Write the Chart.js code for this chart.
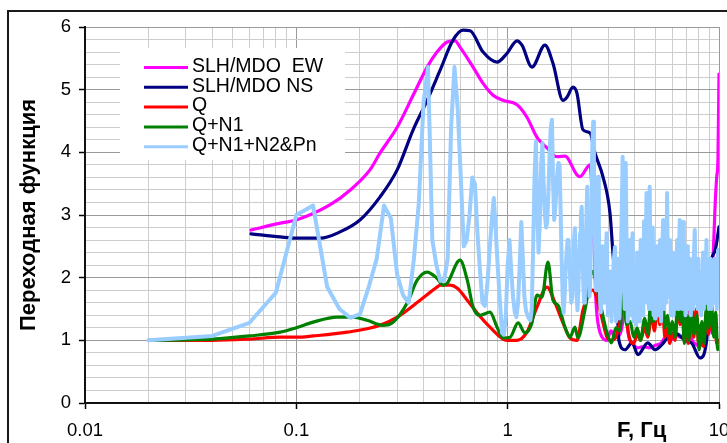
<!DOCTYPE html>
<html>
<head>
<meta charset="utf-8">
<script src="https://cdn.jsdelivr.net/npm/chart.js@4/dist/chart.umd.min.js"></script>
<style>
html,body{margin:0;padding:0;background:#fff;}
canvas{display:block;}
</style>
</head>
<body>
<canvas id="c" width="727" height="443"></canvas>
<script>
// ---------- data ----------
const seriesNames = ['SLH/MDO  EW', 'SLH/MDO NS', 'Q', 'Q+N1', 'Q+N1+N2&Pn'];
const seriesColors = ['#ff00ff', '#000080', '#ff0000', '#008000', '#99ccff'];

const xTickValues = [0.01, 0.1, 1, 10];
const xTickLabels = ['0.01', '0.1', '1', '10'];
const xGridValues = [0.01,0.02,0.03,0.04,0.05,0.06,0.07,0.08,0.09,
                     0.1,0.2,0.3,0.4,0.5,0.6,0.7,0.8,0.9,
                     1,2,3,4,5,6,7,8,9,10];
const yTitle = 'Переходная функция';
const xTitle = 'F, Гц';

// SLH/MDO EW
const ewF = [0.061,0.084,0.1,0.144,0.18,0.223,0.249,0.3,0.357,0.416,
             0.463,0.517,0.564,0.595,0.686,0.765,0.853,0.951,1.107,1.234,
             1.376,1.535,1.711,1.867,2.128,2.198,2.452,2.56,2.62,2.70,
             2.80,2.95,3.08,3.22,3.40,3.55,3.63,3.72,3.90,4.10,
             4.40,4.70,5.00,5.30,5.60,5.90,6.20,6.55,6.90,7.15,
             7.35,7.70,8.10,8.40,8.80,8.95,9.17,9.40,9.57,9.75,
             9.89,10];
const ewV = [2.76,2.87,2.92,3.16,3.40,3.72,3.99,4.40,4.91,5.36,
             5.60,5.76,5.78,5.68,5.36,5.10,4.91,4.83,4.76,4.56,
             4.24,4.07,3.93,3.94,3.64,3.61,3.80,2.60,1.60,1.20,
             1.05,1.00,1.15,1.05,1.10,1.48,2.00,1.10,0.95,0.88,
             0.90,0.88,0.92,0.95,1.05,1.00,1.10,1.05,1.20,2.28,
             1.10,0.95,0.90,1.00,1.20,1.10,1.80,2.40,3.10,3.60,
             3.90,5.25];

// SLH/MDO NS
const nsF = [0.061,0.084,0.1,0.13,0.161,0.2,0.249,0.3,0.357,0.416,
             0.479,0.551,0.615,0.664,0.765,0.891,0.993,1.107,1.169,1.303,
             1.501,1.638,1.827,1.908,2.037,2.128,2.271,2.452,2.589,2.825,
             3.049,3.149,3.29,3.36,3.59,3.875,4.137,4.6,4.977,5.37,
             5.73,6.19,6.90,7.45,8.13,8.74,9.17,9.6,10];
const nsV = [2.70,2.65,2.63,2.63,2.73,2.92,3.29,3.72,4.36,4.83,
             5.31,5.79,5.95,5.94,5.60,5.44,5.58,5.78,5.71,5.36,
             5.71,5.42,4.83,4.88,5.04,4.94,4.36,4.31,3.99,3.61,
             3.03,2.39,1.60,1.00,0.85,0.96,0.77,0.96,0.85,0.93,
             1.05,1.12,1.00,0.95,0.72,1.00,2.23,2.44,2.81];

// Q
const qF = [0.02,0.04,0.06,0.084,0.1,0.12,0.174,0.249,0.3,0.385,
            0.463,0.479,0.534,0.578,0.644,0.716,0.825,0.993,1.107,1.234,
            1.376,1.535,1.675,1.827,1.972,2.128,2.271,2.53,2.734,2.95,
            3.10,3.25,3.40,3.55,3.65,3.80,3.95,4.10,4.25,4.45,
            4.60,4.80,4.95,5.10,5.25,5.40,5.55,5.70,5.85,6.00,
            6.20,6.40,6.55,6.70,6.85,7.00,7.15,7.40,7.60,7.80,
            8.00,8.20,8.45,8.70,8.90,9.10,9.35,9.55,9.75,10.0];
const qV = [1.00,1.00,1.02,1.05,1.05,1.07,1.13,1.24,1.37,1.64,
            1.85,1.88,1.88,1.83,1.64,1.44,1.21,1.00,1.00,1.13,
            1.53,1.85,1.60,1.28,1.04,1.00,1.48,1.80,1.48,1.05,
            1.00,1.05,1.30,1.64,1.30,1.00,0.95,1.10,1.00,1.20,
            1.05,1.40,1.15,1.55,1.25,1.50,1.05,1.20,0.95,1.10,
            1.00,1.60,1.25,1.45,1.00,1.30,0.95,1.40,1.05,1.50,
            0.95,1.25,0.90,1.45,1.10,1.50,1.10,1.35,0.95,1.00];

// Q+N1
const gF = [0.02,0.04,0.06,0.084,0.1,0.12,0.156,0.186,0.216,0.257,
            0.287,0.335,0.373,0.416,0.463,0.495,0.517,0.595,0.644,0.686,
            0.74,0.825,0.891,0.951,1.026,1.12,1.207,1.303,1.376,1.453,
            1.551,1.638,1.73,1.867,1.972,2.082,2.15,2.32,2.53,2.68,
            2.95,3.10,3.25,3.40,3.52,3.65,3.80,3.95,4.10,4.25,
            4.45,4.62,4.75,4.90,5.05,5.20,5.40,5.55,5.70,5.85,
            6.00,6.20,6.40,6.55,6.70,6.85,7.05,7.20,7.40,7.60,
            7.85,8.05,8.30,8.50,8.75,8.95,9.20,9.45,9.65,9.85,
            10.0];
const gV = [1.00,1.02,1.07,1.13,1.20,1.29,1.37,1.37,1.32,1.24,
            1.29,1.60,1.96,2.09,1.99,1.88,1.91,2.28,1.96,1.53,
            1.40,1.45,1.21,1.04,1.05,1.28,1.12,1.28,1.72,1.69,
            2.25,1.64,1.56,1.21,1.05,1.21,1.04,1.48,2.10,1.75,
            1.12,0.96,1.20,1.15,1.88,1.25,1.30,1.05,1.20,1.00,
            1.35,1.10,1.64,1.30,1.80,1.40,1.85,1.20,1.40,1.10,
            1.30,1.05,1.80,1.30,1.60,0.95,1.40,1.00,1.70,1.10,
            1.40,0.85,1.30,0.95,1.60,1.20,1.60,1.05,1.45,0.85,
            0.90];

// Q+N1+N2&Pn
const lbF = [0.02,0.04,0.06,0.08,0.10,0.12,0.14,0.16,0.18,0.20,
             0.22,0.24,0.26,0.28,0.30,0.32,0.34,0.36,0.38,0.40,
             0.42,0.44,0.46,0.48,0.50,0.52,0.54,0.56,0.58,0.60,
             0.62,0.64,0.66,0.68,0.70,0.72,0.74,0.76,0.78,0.80,
             0.82,0.84,0.86,0.88,0.90,0.92,0.94,0.96,0.98,1.00,
             1.02,1.04,1.06,1.08,1.10,1.12,1.14,1.16,1.18,1.20,
             1.22,1.24,1.26,1.28,1.30,1.32,1.34,1.36,1.38,1.40,
             1.42,1.44,1.46,1.48,1.50,1.52,1.54,1.56,1.58,1.60,
             1.62,1.64,1.66,1.68,1.70,1.72,1.74,1.76,1.78,1.80,
             1.82,1.84,1.86,1.88,1.90,1.92,1.94,1.96,1.98,2.00,
             2.02,2.04,2.06,2.08,2.10,2.12,2.14,2.16,2.18,2.20,
             2.22,2.24,2.26,2.28,2.30,2.32,2.34,2.36,2.38,2.40,
             2.42,2.44,2.46,2.48,2.50,2.52,2.54,2.56,2.58,2.60,
             2.62,2.64,2.66,2.68,2.70,2.72,2.74,2.76,2.82,2.86,
             2.90,2.94,2.98,3.02,3.06,3.10,3.14,3.18,3.22,3.26,
             3.30,3.34,3.38,3.42,3.46,3.50,3.54,3.58,3.62,3.66,
             3.70,3.74,3.78,3.82,3.86,3.90,3.94,3.98,4.02,4.06,
             4.10,4.14,4.18,4.22,4.26,4.30,4.34,4.38,4.42,4.46,
             4.50,4.54,4.58,4.62,4.66,4.70,4.74,4.78,4.82,4.86,
             4.90,4.94,4.98,5.02,5.08,5.14,5.20,5.26,5.32,5.38,
             5.44,5.50,5.56,5.62,5.68,5.74,5.80,5.86,5.92,5.98,
             6.04,6.10,6.16,6.22,6.28,6.34,6.40,6.46,6.52,6.58,
             6.64,6.70,6.76,6.82,6.88,6.94,7.00,7.06,7.12,7.20,
             7.28,7.36,7.44,7.52,7.60,7.68,7.76,7.84,7.92,8.00,
             8.08,8.16,8.24,8.32,8.40,8.48,8.56,8.64,8.72,8.80,
             8.88,8.96,9.04,9.12,9.20,9.28,9.36,9.44,9.52,9.60,
             9.68,9.76,9.84,9.90,9.96,10.0];
const lbV = [1.00,1.07,1.28,1.76,3.00,3.15,1.85,1.50,1.36,1.42,
             1.85,2.30,3.15,2.95,2.05,1.72,1.60,2.30,3.20,4.80,
             5.36,2.60,2.20,1.95,1.95,2.30,4.40,5.36,4.70,3.60,
             2.50,2.60,3.00,3.60,3.50,2.70,2.10,1.60,1.55,1.85,
             2.40,2.90,3.27,2.70,2.10,1.60,1.12,1.09,1.40,2.20,
             2.60,2.10,1.70,1.45,1.37,1.60,2.20,2.89,2.30,1.70,
             1.48,1.40,1.35,1.32,1.50,2.50,3.60,4.17,3.10,2.40,
             2.90,3.80,4.15,3.50,3.00,2.80,2.90,3.40,4.00,4.40,
             4.52,3.50,2.92,3.10,3.40,3.70,3.83,3.80,3.10,2.30,
             1.70,1.44,1.70,2.10,2.40,2.60,2.60,2.30,1.90,1.60,
             1.70,2.20,2.60,2.79,2.20,1.70,1.48,1.80,2.30,2.70,
             3.00,3.13,2.50,1.90,1.60,1.70,2.30,3.00,3.45,2.80,
             2.00,1.70,2.00,2.80,3.60,4.20,4.49,3.90,3.00,2.20,
             1.80,2.40,3.20,3.61,2.90,2.10,1.60,1.45,2.50,1.60,
             2.20,2.71,1.40,1.90,2.10,1.30,1.80,2.30,2.49,1.30,
             1.90,2.30,1.35,2.00,2.90,3.93,2.00,1.50,3.83,2.20,
             1.30,1.90,2.60,1.40,2.20,2.71,1.30,1.80,2.20,1.25,
             2.40,1.60,2.10,1.30,2.60,1.70,2.20,1.40,2.90,1.80,
             2.40,3.35,1.60,2.30,1.50,3.45,2.00,1.50,2.50,2.80,
             1.40,2.20,1.35,2.10,2.50,1.40,2.20,2.60,1.30,2.30,
             2.92,1.50,2.20,1.60,3.35,1.70,2.30,2.60,1.40,2.10,
             2.40,1.40,2.00,1.50,2.20,2.60,1.50,2.30,2.92,1.60,
             2.20,1.50,2.89,1.70,2.20,1.40,2.10,2.50,1.50,2.00,
             2.30,1.40,2.10,1.50,2.30,2.76,1.60,2.20,1.50,2.30,
             1.60,2.00,1.40,2.10,2.40,1.50,2.10,1.60,2.60,1.70,
             2.20,1.50,2.00,2.30,1.50,2.10,1.60,2.00,2.30,1.60,
             2.10,1.50,2.20,2.44,1.70,2.00];

// ---------- chart ----------
const FONT = "'Liberation Sans', Arial, Helvetica, sans-serif";
const near = (a, b) => Math.abs(a - b) <= Math.abs(b) * 1e-6 + 1e-9;
const isMajorX = v => xTickValues.some(t => near(v, t));
const isMajorY = v => Math.abs(v - Math.round(v)) < 1e-6;
const pts = (f, v) => f.map((x, i) => ({ x: x, y: v[i] }));

const seriesData = [pts(ewF, ewV), pts(nsF, nsV), pts(qF, qV), pts(gF, gV), pts(lbF, lbV)];
const drawOrder = [5, 4, 3, 2, 1];
const lineWidths = [3.2, 3.2, 3.2, 3.2, 4];

const datasets = seriesData.map((d, i) => ({
  label: seriesNames[i],
  data: d,
  borderColor: seriesColors[i],
  backgroundColor: seriesColors[i],
  borderWidth: lineWidths[i],
  pointRadius: 0,
  fill: false,
  tension: i === 4 ? 0 : 0.4,
  cubicInterpolationMode: i === 4 ? 'default' : 'monotone',
  borderJoinStyle: 'round',
  borderCapStyle: 'round',
  order: drawOrder[i]
}));

const decorPlugin = {
  id: 'decor',
  beforeDraw(chart) {
    const ctx = chart.ctx;
    ctx.save();
    ctx.fillStyle = '#fff';
    ctx.fillRect(0, 0, chart.width, chart.height);
    ctx.strokeStyle = '#1a1a1a';
    ctx.lineWidth = 2;
    ctx.strokeRect(8, 11, 800, 500);
    ctx.restore();
  },
  beforeDatasetsDraw(chart) {
    const ctx = chart.ctx;
    ctx.save();
    ctx.fillStyle = '#fff';
    ctx.fillRect(120, 48, 225, 112);
    chart.data.datasets.forEach((ds, i) => {
      const y = 67.5 + i * 19.8;
      ctx.strokeStyle = ds.borderColor;
      ctx.lineWidth = 3;
      ctx.lineCap = 'butt';
      ctx.beginPath();
      ctx.moveTo(144, y);
      ctx.lineTo(188, y);
      ctx.stroke();
      ctx.fillStyle = '#000';
      ctx.font = '19.5px ' + FONT;
      ctx.textBaseline = 'middle';
      ctx.textAlign = 'left';
      ctx.fillText(ds.label, 192, y - 1);
    });
    ctx.restore();
  },
  afterDraw(chart) {
    const ctx = chart.ctx;
    ctx.save();
    ctx.fillStyle = '#000';
    ctx.font = 'bold 22px ' + FONT;
    ctx.textBaseline = 'alphabetic';
    ctx.textAlign = 'left';
    ctx.fillText(xTitle, 617, 437);
    ctx.restore();
  }
};

new Chart(document.getElementById('c'), {
  type: 'line',
  data: { datasets: datasets },
  plugins: [decorPlugin],
  options: {
    responsive: false,
    animation: false,
    devicePixelRatio: 1,
    events: [],
    layout: { padding: { left: 0, top: 27, right: 8, bottom: 0 } },
    plugins: { legend: { display: false }, tooltip: { enabled: false } },
    scales: {
      x: {
        type: 'logarithmic',
        min: 0.01,
        max: 10,
        afterBuildTicks: s => { s.ticks = xGridValues.map(v => ({ value: v })); },
        afterFit: s => { s.height = 40; s.paddingLeft = 0; s.paddingRight = 0; },
        ticks: {
          autoSkip: false,
          maxRotation: 0,
          minRotation: 0,
          padding: 11,
          color: '#000',
          font: { family: FONT, size: 18.5 },
          callback: v => {
            const k = xTickValues.findIndex(t => near(v, t));
            return k >= 0 ? xTickLabels[k] : '';
          }
        },
        grid: {
          color: c => (c.tick && isMajorX(c.tick.value)) ? '#9a9a9a' : '#cdcdcd',
          lineWidth: 1,
          tickLength: 6,
          tickColor: c => (c.tick && isMajorX(c.tick.value)) ? '#000' : 'rgba(0,0,0,0)',
          tickWidth: 1.5
        },
        border: { display: true, color: '#111', width: 2 }
      },
      y: {
        type: 'linear',
        min: 0,
        max: 6,
        afterFit: s => { s.width = 85; },
        ticks: {
          stepSize: 0.2,
          autoSkip: false,
          padding: 8,
          color: '#000',
          font: { family: FONT, size: 18.5 },
          callback: v => isMajorY(v) ? String(Math.round(v)) : ''
        },
        grid: {
          color: c => (c.tick && isMajorY(c.tick.value)) ? '#9a9a9a' : '#cdcdcd',
          lineWidth: 1,
          tickLength: 6,
          tickColor: c => (c.tick && isMajorY(c.tick.value)) ? '#000' : 'rgba(0,0,0,0)',
          tickWidth: 1.5
        },
        border: { display: true, color: '#111', width: 2 },
        title: {
          display: true,
          text: yTitle,
          color: '#000',
          font: { family: FONT, size: 22, weight: 'bold' },
          padding: { top: 16, bottom: 0 }
        }
      }
    }
  }
});
</script>
</body>
</html>
